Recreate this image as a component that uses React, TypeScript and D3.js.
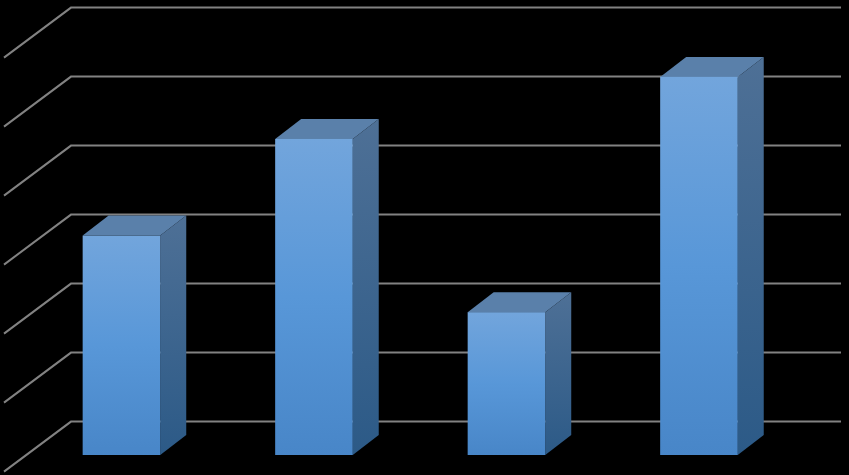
import * as d3 from "d3";

const categories = ["A", "B", "C", "D"];
const values = [3.18, 4.58, 2.07, 5.48];
const ticks = [0, 1, 2, 3, 4, 5, 6];

const width = 849;
const height = 475;
const tickStep = 69;
const floorBack = 421.6;
const wallLeft = 71;
const wallRight = 841;
const wallDepth = { x: -67, y: 50 };
const barDepth = { x: 26, y: -20 };
const barFloor = 455;

const x = d3
  .scaleBand<string>()
  .domain(categories)
  .range([25.2, 795.2])
  .paddingInner(0.597)
  .paddingOuter(0.2985);
const y = d3.scaleLinear().domain([0, 1]).range([barFloor, barFloor - tickStep]);
const gridY = d3.scaleLinear().domain([0, 1]).range([floorBack, floorBack - tickStep]);

const poly = d3.line();

export default function App() {
  const w = x.bandwidth();

  return (
    <svg width={width} height={height} style={{ position: "absolute", left: 0, top: 0, background: "#000" }}>
      <defs>
        <linearGradient id="front" x1="0" y1="0" x2="0" y2="1">
          <stop offset="0" stopColor="#72a5dc" />
          <stop offset="0.5" stopColor="#5897d8" />
          <stop offset="1" stopColor="#4886c8" />
        </linearGradient>
        <linearGradient id="side" x1="0" y1="0" x2="0" y2="1">
          <stop offset="0" stopColor="#4e7096" />
          <stop offset="1" stopColor="#2c5a87" />
        </linearGradient>
      </defs>

      {/* gridlines, wall and floor side */}
      {ticks.map((t) => {
        const gy = gridY(t);
        return (
          <path
            key={t}
            d={
              poly([
                [wallLeft + wallDepth.x, gy + wallDepth.y],
                [wallLeft, gy],
                [wallRight, gy],
              ]) || ""
            }
            fill="none"
            stroke="#828282"
            strokeWidth={2}
          />
        );
      })}

      {/* bars */}
      {categories.map((c, i) => {
        const x0 = x(c) as number;
        const x1 = x0 + w;
        const top = y(values[i]);
        return (
          <g key={c}>
            <path
              d={
                poly([
                  [x0, top],
                  [x0 + barDepth.x, top + barDepth.y],
                  [x1 + barDepth.x, top + barDepth.y],
                  [x1, top],
                ]) + "Z"
              }
              fill="#5a80aa"
            />
            <path
              d={
                poly([
                  [x1, top],
                  [x1 + barDepth.x, top + barDepth.y],
                  [x1 + barDepth.x, barFloor + barDepth.y],
                  [x1, barFloor],
                ]) + "Z"
              }
              fill="url(#side)"
            />
            <rect x={x0} y={top} width={w} height={barFloor - top} fill="url(#front)" />
          </g>
        );
      })}
    </svg>
  );
}
